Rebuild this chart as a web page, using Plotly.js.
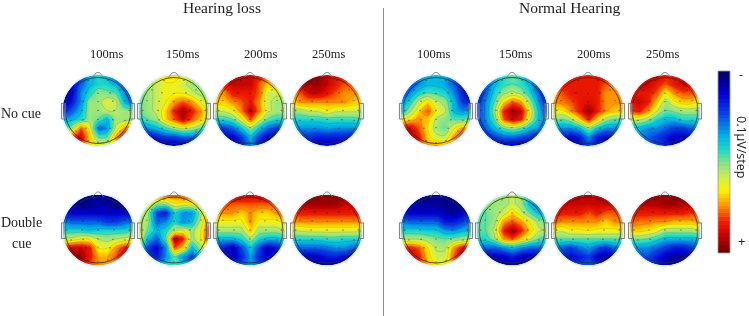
<!DOCTYPE html>
<html><head><meta charset="utf-8">
<script src="https://cdn.plot.ly/plotly-3.0.1.min.js"></script>
<style>html,body{margin:0;padding:0;background:#fff;overflow:hidden}#chart{filter:blur(.35px)}</style>
</head><body><div id="chart" style="width:749px;height:316px"></div>
<script>
// Potential on a 0 (navy, "-") to 9.4 (dark red, "+") scale, rows top of head to bottom.
const hlNoCue100=[[1,1,2,3.5,4,3.5,2,1,1],[1,1,2.5,3.5,4,4,3.5,2,1],[.5,1,3,4,5,4.7,4.5,3,1.5],[.5,1.5,3,5,5,5.8,5.5,3.5,2.5],[1.5,2.5,3.5,5,5,5.3,5.3,5,5],[3,3.5,4,5,4.5,3.5,5,5,5],[4.5,5,7.5,6,2.5,3,5.5,7,7.5],[6,8,8.5,6.5,4.5,4.5,7,8.5,8.5],[6,8,7,6.5,6,6,6.5,7,7]];
const hlNoCue150=[[5,5,6,6.5,6.5,6,5.5,5,5],[4.5,5,5.5,6,6,5.5,5,5,5],[4.5,5,5.5,6,6,6,5.5,5,5],[4.5,5,5.5,6,7,7.5,7,6,5],[4.5,5,5.5,6.5,8,9,8,7,5.5],[4,4.5,5,6.5,7.5,8.5,7.5,6.5,5.5],[2.5,3,3.5,4.2,5,5.5,5.2,4.5,3.5],[1,1,1.5,2,2,2.5,2.5,2,2],[.5,.5,.5,.5,.5,.5,.5,.5,.5]];
const hlNoCue200=[[8,8,8.5,8.5,8.5,8,7.5,7,7],[7,8,8.5,8.5,8.5,7.5,6.5,7,7],[7,7,8,8,8,7.5,5.5,5.5,6],[6.5,6.5,7,7.5,8,7,5.5,5,5],[5.5,5.5,6,7.2,8.7,7.2,5.5,5,5.5],[4,4,4.5,5.8,7.5,5.8,4.5,4,4],[2.5,2,2.5,3.7,5,3.7,2.5,2,3],[2,1,1,2,3.5,2,1,1,2.5],[2.5,1.5,1,1.5,3,1.5,1,1.5,2.5]];
const hlNoCue250=[[8,8.5,9,9,8.5,8,8,7.5,7],[7.5,8.5,9,9,8.5,8,7.5,7.5,7],[7,7.5,8.5,8.5,8,7.5,7,7,7],[6.5,7,7,7,7,7,7,6.5,6.5],[5,5,5.5,5.5,6,5.5,5.5,5.5,5.5],[4,4,4,4,4.2,4.2,4.2,4.2,4.5],[3,3,3,3,3.2,3,3,3,3],[2,2,1.8,1.5,1.5,1.5,1.5,1.5,2],[1.5,1,.8,.8,.8,.8,.8,1,1.5]];
const hlDouble100=[[1,.5,.5,.5,.5,.5,.5,1,1],[1,.5,.2,.3,.6,.5,.2,.5,1],[1.5,1,1,1,1,1,1,1,1.5],[3,2.5,2.5,2.5,2.5,2,2,2.5,3],[4,4,4,3.7,3.9,4,4,4,4.5],[5.5,5.5,6,6,5.3,5,5.3,5.5,5.8],[8,8.5,8.5,8,6,6,7,8,8],[8,9,9,8,6.8,6.8,7.5,8.5,8],[7.5,8.5,8,7.5,7,7,7,7.5,7.5]];
const hlDouble150=[[6,7,7.5,7.5,7.5,7.5,7.5,7,7],[6,6,5,5,6,6,6,6.5,7],[5.5,5,2,1.5,4,3,3,5,7],[5.5,5,2.5,3,4,3,3.5,5.5,7.5],[6,4.5,3.5,4,5.5,6,5,6,8],[6,3.5,2.5,4.5,9,8,5,6,8],[5,2,1,3,7.5,6.5,3.5,5,6],[4,2,1.5,3,4.5,3,2,4,5],[3.5,3,3.5,4,4.5,4,3.5,4,4]];
const hlDouble200=[[8,8.5,8.5,8.5,8.5,8.5,8.5,8.5,8],[7.5,7.5,7.5,7.5,7.5,7.5,7.5,7.5,7.5],[7,7,7,6.5,7,6.5,6.5,7,7.5],[6,6,6,6,7,6,6,6,6.5],[5,5,5,5,6.5,5,5,5,5.5],[3.5,3.5,3.5,4,5,4,3.5,3.5,4],[2.5,1.5,.8,2.2,3.7,2.2,.8,1.5,3],[3,1.2,.8,1.7,3.2,1.7,.9,1.2,3],[3,2.5,2,2.5,3.2,2.5,2,2.5,3]];
const hlDouble250=[[8.5,9,9,9,9,9,9,8.5,8.5],[8.5,8.5,9,9,9,9,8.5,8.5,8.5],[7.5,8,8,8,8,8,8,8,8],[7,7,7,7,7,7,7,7,7],[5.5,5.5,5.7,5.7,5.7,5.7,5.7,5.7,5.5],[4,4,4,4,4.2,4.2,4,4,4],[2.5,2.5,2.5,2.5,2.7,3,3,2.5,2.5],[1,1,.8,1,1.5,1.5,1.2,1,1.5],[1,.7,.5,.5,.7,.7,.7,.8,1.5]];
const nhNoCue100=[[2,2,3,3.5,3.5,3.5,2.5,1.5,1],[2,2,3,3.5,3.5,3.2,2.5,1.5,1],[2,3,4,4.5,4.3,4,3,1.5,1],[3,4,5.5,6.5,5.5,5,3.5,2,1.5],[3.5,5,6.5,7.5,6,5.5,3.5,3,3.5],[6,6.5,7,6.5,5.2,4.8,4.5,4.5,4.8],[8,8.5,7.5,6.2,5,4.5,6,7,6.5],[8.5,9,8,6.5,5.5,5.5,7,8,7.5],[8,8,7.5,7,7,7,7,7.5,7]];
const nhNoCue150=[[2.5,3,3.5,4.2,4.5,4.2,3,2,1.5],[1.5,2.5,3.5,4.2,4.5,4.2,3.5,2,1],[1.5,2.5,4,5,5.5,5,4,2.5,1],[1.5,3,4.5,6.5,7.5,7,5,3,1.5],[2,3,5,8,9,8.5,6,3.5,2],[2,3,4.5,7.5,8.5,8,5.5,3.5,2.5],[1.5,2.5,3.5,4.5,5,4.5,3.5,3,2.5],[1,1.5,2,2.5,2.5,2.2,1.8,1.5,1.5],[.7,.7,.7,.7,.7,.7,.7,.7,.7]];
const nhNoCue200=[[7,8,8,8,8,8,8,7.5,7],[7,8,8,8,8,8,7.5,7,7],[7,7.5,8,8,8,8,7,7,7],[7,7.2,7.5,8,8.2,8,7,7,7],[6,6,7,8,9,8,7,6.5,6.5],[5,4.5,5,6.5,8,6.5,5,4.5,4.5],[3.5,3,3,3.5,5,3.7,3,3,3],[2,1.5,1,1.5,3,1.5,1,1.5,2],[2,1.5,1,1.2,2,1.5,1.5,2,2.5]];
const nhNoCue250=[[8,8,8.5,8.5,8,8,8,8,8],[8,8.5,8.5,8,7.5,8,8.5,8,7.5],[8,8,8,7.5,6,7,7.5,7.5,7],[8,8.5,8,6.5,5,6,6.5,6.5,6],[7.5,8,7,5.5,4.5,4.7,5,5,5],[5.5,5.5,5,4,3.5,3.5,4,4,4],[3.5,3.5,3,3,2.5,2,2,2.5,3],[3,3,2.5,2,1.5,1,1,1,1.5],[2.5,3,2.5,2,1.5,1,1,1,1.5]];
const nhDouble100=[[1,.5,.3,.3,.3,.5,.5,.7,1],[1,.7,.5,.5,.5,.3,.3,.5,1],[1.5,1,1,1,1,.7,.5,1,1.5],[3,2.5,2.5,2.5,2.5,1.5,1.5,2,3],[4,4,4,3.8,3.8,3.2,3,3.5,3.5],[5.2,5.2,5.2,5,4.7,4.5,4.7,5,5.2],[7.5,8,7.5,6.2,5.2,5.2,7,8.2,8],[8,8.5,8,6.5,5.5,5.5,7.5,8.8,8],[7,7.5,7.5,6.7,6.2,6.2,6.7,7,7]];
const nhDouble150=[[5,5,5,5,5.5,5,4,3,3],[4.5,5,5,5,5.5,5,3.5,2.5,3],[4.5,4.5,5,5.5,6.5,5.5,4.5,3.5,3.5],[4.5,4.5,5,7,7.5,7,6,5,4.5],[4.5,4.5,5.5,8,9,8,6.5,5.5,5],[4,4,5,7,7.5,6.5,5.5,4.5,4],[2.5,2.5,2.5,3,3.5,3,2.5,2.5,3],[1.5,1,.7,1,1.5,.8,.7,1,2],[1,1,.8,.8,.8,.8,.8,1,1.5]];
const nhDouble200=[[8.5,8.5,8.5,8.7,8.7,8.7,8.5,8.5,8],[8.7,8.5,8.5,8.5,8.5,8.5,8.5,8,8],[8,8,8,8,7.5,8,7.5,7.5,7.5],[7.5,7,7,7,7,7,6.5,7,7],[6,5.5,6,6,6.2,6,6,6,6],[4.5,4.5,4.5,4.5,4.5,4.5,4.5,4.5,4.5],[3,2.5,2,2.7,3.2,2.4,1.8,2.7,3],[2.5,1.7,1.2,1.5,2,1,.5,1,2.5],[3,2.5,2,2.2,2.5,2,1.5,2.5,3.2]];
const nhDouble250=[[8.5,8.5,9,9,9,9,9,8.5,8.5],[8.5,8.5,8.7,8.7,9,9,8.7,8.5,8.5],[8,8,8,8,8,8,8,7.7,7.5],[7.5,7.2,7.2,7,7,6.7,6.7,6.7,7],[6.5,6.5,6.2,5.8,5,5,5,5,5.5],[4.7,4.7,4.5,4,3.5,3.5,3.5,3.5,3.5],[3,3,3,2.5,2,1.5,1.5,2,2.5],[3,2.5,2.2,1.5,.8,.5,.5,1,1.5],[3,2.5,2,1.5,1,.7,.7,1,1.5]];

const gridX=[-1,-.75,-.5,-.25,0,.25,.5,.75,1];
const gridY=[1,.75,.5,.25,0,-.25,-.5,-.75,-1];
const electrodeX=[-.28,.28,-.62,-.34,0,.34,.62,-.76,-.42,0,.42,.76,-.88,-.45,0,.45,.88,-.76,-.42,0,.42,.76,-.62,-.34,0,.34,.62,-.28,0,.28];
const electrodeY=[.85,.85,.58,.5,.48,.5,.58,.28,.26,.25,.26,.28,0,0,0,0,0,-.28,-.26,-.25,-.26,-.28,-.58,-.5,-.48,-.5,-.58,-.85,-.9,-.85];

const timeLabels=["100ms","150ms","200ms","250ms"];
const panelTitles=["Hearing loss","Normal Hearing"];
const headGrids=[hlNoCue100,hlNoCue150,hlNoCue200,hlNoCue250,nhNoCue100,nhNoCue150,nhNoCue200,nhNoCue250,
                 hlDouble100,hlDouble150,hlDouble200,hlDouble250,nhDouble100,nhDouble150,nhDouble200,nhDouble250];
const barLevels=[];for(let i=0;i<46;i++)barLevels.push([i]);

const W=749,H=316,R=35.5,HX=38,HY=40;
const colsX=[98,174,250,327,436,512,588,665],rowsY=[110.5,230];
const scale=[[0,'#00006e'],[.12,'#0000d8'],[.25,'#0a50e8'],[.36,'#00b4e6'],[.44,'#22dcc8'],[.5,'#7fe38f'],[.58,'#c9ec5a'],[.66,'#fff200'],[.74,'#ff9a00'],[.84,'#f01a00'],[.92,'#c00000'],[1,'#6e0000']];
const data=[],shapes=[],layout={};

function hole(){
  let p='M-5,-5L5,-5L5,5L-5,5Z M';
  for(let i=0;i<=140;i++){const t=i/140*2*Math.PI;p+=(i?'L':'')+(Math.cos(t)).toFixed(4)+','+(Math.sin(t)).toFixed(4);}
  return p+'Z';
}
const maskPath=hole();
const headR=33/R;
let n=0;
rowsY.forEach((cy,ri)=>{colsX.forEach((cx,ci)=>{
  n++;const k=n===1?'':n,xa='x'+k,ya='y'+k;
  layout['xaxis'+k]={domain:[(cx-HX)/W,(cx+HX)/W],range:[-HX/R,HX/R],visible:false,fixedrange:true,anchor:ya};
  layout['yaxis'+k]={domain:[1-(cy+HY)/H,1-(cy-HY)/H],range:[-HY/R,HY/R],visible:false,fixedrange:true,anchor:xa};
  data.push({type:'contour',x:gridX,y:gridY,z:headGrids[ri*8+ci],xaxis:xa,yaxis:ya,zauto:false,zmin:0,zmax:9.4,colorscale:scale,showscale:false,hoverinfo:'skip',
    contours:{coloring:'heatmap',start:.5,end:8.9,size:.8},line:{color:'rgba(40,40,40,.28)',width:.5,smoothing:1}});
  data.push({type:'scatter',mode:'markers',x:electrodeX,y:electrodeY,xaxis:xa,yaxis:ya,marker:{size:1.3,color:'rgba(20,20,20,.6)'},hoverinfo:'skip',showlegend:false});
  shapes.push({type:'path',xref:xa,yref:ya,path:maskPath,fillrule:'evenodd',fillcolor:'#fff',line:{width:0},layer:'above'});
  shapes.push({type:'circle',xref:xa,yref:ya,x0:-1.02,x1:1.02,y0:-1.02,y1:1.02,line:{color:'#e2f2fb',width:1.5},layer:'above'});
  shapes.push({type:'circle',xref:xa,yref:ya,x0:-headR,x1:headR,y0:-headR,y1:headR,line:{color:'#2a2a2a',width:.8},layer:'above'});
  [[-1.03,-.91],[.91,1.03]].forEach(e=>shapes.push({type:'rect',xref:xa,yref:ya,x0:e[0],x1:e[1],y0:-.24,y1:.2,fillcolor:'rgba(225,225,225,.3)',line:{color:'#666',width:.8},layer:'above'}));
  shapes.push({type:'path',xref:xa,yref:ya,path:'M-.16,.93 L-.05,1.06 Q0,1.09 .05,1.06 L.16,.93',line:{color:'#777',width:.8},layer:'above'});
});});

// colour bar
n++;
layout['xaxis'+n]={domain:[718/W,730/W],range:[-.5,.5],visible:false,fixedrange:true,anchor:'y'+n};
layout['yaxis'+n]={domain:[1-253/H,1-71/H],range:[-.5,barLevels.length-.5],visible:false,fixedrange:true,anchor:'x'+n};
data.push({type:'heatmap',z:barLevels,xaxis:'x'+n,yaxis:'y'+n,colorscale:scale.map(s=>[1-s[0],s[1]]).reverse(),showscale:false,hoverinfo:'skip'});
shapes.push({type:'rect',xref:'paper',yref:'paper',x0:718/W,x1:730/W,y0:1-253/H,y1:1-71/H,line:{color:'#9a9a9a',width:.8},layer:'above'});

// divider
shapes.push({type:'line',xref:'paper',yref:'paper',x0:383.5/W,x1:383.5/W,y0:0,y1:1-8/H,line:{color:'#8c8c8c',width:1}});

const serif='"Liberation Serif","Times New Roman",serif';
const note=(text,x,y,size,extra)=>Object.assign({text,xref:'paper',yref:'paper',x:x/W,y:1-y/H,xanchor:'center',yanchor:'middle',showarrow:false,font:{family:serif,size,color:'#222'}},extra||{});
const annotations=[note(panelTitles[0],222,7,15.5),note(panelTitles[1],569,7,15.5)];
[106,182,260,328,433,515,593,662].forEach((x,i)=>annotations.push(note(timeLabels[i%4],x,54,12.5)));
annotations.push(note('No cue',21,113,14),note('Double',21,222,14),note('cue',21,243,14));
const sans='"Open Sans","Liberation Sans",sans-serif';
annotations.push(note('-',741,75,12,{font:{family:sans,size:12,color:'#222'}}));
annotations.push(note('0.1μV/step',742,147,12.5,{textangle:90,font:{family:sans,size:12.5,color:'#222'}}));
annotations.push(note('+',741,241,13,{font:{family:sans,size:13,color:'#222'}}));

Object.assign(layout,{width:W,height:H,margin:{l:0,r:0,t:0,b:0},paper_bgcolor:'#fff',plot_bgcolor:'#fff',showlegend:false,shapes,annotations});
Plotly.newPlot('chart',data,layout,{displayModeBar:false,staticPlot:true});
</script></body></html>
